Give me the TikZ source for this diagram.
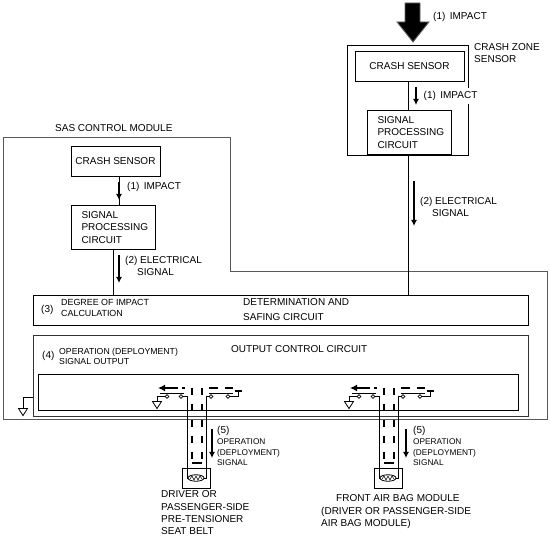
\documentclass[tikz,border=0pt]{standalone}
\usepackage{fontspec}
\setmainfont{Liberation Sans}
\usetikzlibrary{positioning,arrows.meta,shapes.geometric}

\begin{document}
\begin{tikzpicture}[
    x=1pt, y=-1pt,
    every node/.style={font=\fontsize{10}{12.4}\selectfont},
    box/.style={draw, rectangle, line width=0.8pt, inner sep=0pt, align=center},
    sensorbox/.style={box, minimum height=30pt},
    signalbox/.style={box, fill=white, minimum height=44pt, text width=64pt, inner xsep=10pt, align=left},
    lbl/.style={anchor=north west, inner sep=0pt, align=left},
    small/.style={lbl, font=\fontsize{8.3}{10.3}\selectfont},
    wire/.style={line width=0.8pt},
    graywire/.style={line width=0.9pt, black!65},
    arr/.style={-{Latex[length=6pt,width=6pt]}, line width=2pt},
    pulse/.style={line width=1.9pt, dash pattern=on 7.5pt off 8.5pt},
    contact/.style={draw, circle, line width=0.7pt, inner sep=0pt, minimum size=3.6pt, fill=white},
    ground/.style={draw, isosceles triangle, isosceles triangle apex angle=70, isosceles triangle stretches,
        shape border rotate=-90, line width=0.8pt, inner sep=0pt, minimum width=9pt, minimum height=7pt}
]
    \useasboundingbox (0,0) rectangle (550,545);

    % module outlines
    \draw[graywire] (3,137) -- (230,137) -- (230,271) -- (547,271) -- (547,419) -- (3,419) -- cycle;
    \node[box, minimum width=121pt, minimum height=110pt] (zone) at (407.5,100) {};
    \node[box, minimum width=495pt, minimum height=30pt] (det) at (280.5,310) {};
    \node[box, minimum width=495pt, minimum height=81pt, draw=black!80] (ctrl) at (280.5,375.5) {};
    \node[box, minimum width=480pt, minimum height=36pt] (drv) at (278,392) {};

    % sensors
    \node[sensorbox, minimum width=109pt] (sensor2) at (409.5,66.5) {CRASH SENSOR};
    \node[signalbox, below=28pt of sensor2] (signal2) {SIGNAL\\PROCESSING\\CIRCUIT};
    \node[sensorbox, minimum width=89pt] (sensor1) at (115.5,161.5) {CRASH SENSOR};
    \node[signalbox, below=28pt of sensor1, xshift=-2pt] (signal1) {SIGNAL\\PROCESSING\\CIRCUIT};
    \draw[wire] ([xshift=-1.5pt]sensor2.south) -- ([xshift=-1.5pt]signal2.north);
    \draw[wire] ([xshift=-1.5pt]signal2.south) -- ([xshift=-1.5pt]signal2.south |- det.north);
    \draw[wire] ([xshift=3.5pt]sensor1.south) -- ([xshift=3.5pt]sensor1.south |- signal1.north);
    \draw[wire] (signal1.south) -- (signal1.south |- det.north);

    % impact arrow
    \coordinate (hit) at (413,42);
    \draw[fill=black, draw=black!60, line width=0.9pt] (405,3) -- (420,3) -- (420,22) -- (429,22)
        -- (hit) -- (397,22) -- (405,22) -- cycle;

    % signal arrows
    \foreach \nm/\x/\ya/\yb in {a/416/87/105, b/414/181/226, c/119/182/200, d/119/255/283, e/212/429/458, f/406/429/458} {
        \coordinate (\nm s) at (\x,\ya);
        \coordinate (\nm e) at (\x,\yb);
        \draw[arr] (\nm s) -- (\nm e);
    }

    % texts
    \node[lbl] (t1) at (433,12) {(1)\, IMPACT};
    \node[lbl] (t2) at (474,43) {CRASH ZONE\\SENSOR};
    \node[lbl, fill=white, inner xsep=0.5pt, inner ysep=3pt] (t3) at (423,88) {(1)\, IMPACT};
    \node[lbl] (t4) at (420,197) {(2) ELECTRICAL\\\hspace*{12pt}SIGNAL};
    \node[lbl] (t5) at (55,124) {SAS CONTROL MODULE};
    \node[lbl] (t6) at (127,182) {(1)\, IMPACT};
    \node[lbl] (t7) at (125,256) {(2) ELECTRICAL\\\hspace*{12pt}SIGNAL};
    \node[lbl] (t8) at (41,305) {(3)};
    \node[small, font=\fontsize{8.9}{10.4}\selectfont] (t9) at (61,299.5) {DEGREE OF IMPACT\\CALCULATION};
    \node[lbl, font=\fontsize{10}{15}\selectfont] (t10) at (243,298) {DETERMINATION AND\\SAFING CIRCUIT};
    \node[lbl] (t11) at (231,345) {OUTPUT CONTROL CIRCUIT};
    \node[lbl] (t12) at (42,351) {(4)};
    \node[small, font=\fontsize{8.7}{10.8}\selectfont] (t13) at (59,347.5) {OPERATION (DEPLOYMENT)\\SIGNAL OUTPUT};
    \node[lbl] (t14) at (161,490.5) {DRIVER OR\\PASSENGER-SIDE\\PRE-TENSIONER\\SEAT BELT};
    \node[lbl] (t15) at (321,494.5) {\hspace*{15pt}FRONT AIR BAG MODULE\\(DRIVER OR PASSENGER-SIDE\\AIR BAG MODULE)};
    \node[lbl] (t16) at (217,426) {(5)};
    \node[small] (t17) at (217,439) {OPERATION\\(DEPLOYMENT)\\SIGNAL};
    \node[lbl] (t18) at (413,426) {(5)};
    \node[small] (t19) at (413,439) {OPERATION\\(DEPLOYMENT)\\SIGNAL};

    % left ground
    \node[ground] (gnd) at (23,411) {};
    \draw[wire] (ctrl.west |- 0,397) -| (gnd.north);

    % output switches and modules
    \foreach \nm/\dx in {p/0, q/192} {
        \begin{scope}[xshift=\dx pt]
            \node[box, minimum width=28pt, minimum height=20pt] (conn\nm) at (196,478) {};
            \node[draw, ellipse, line width=0.8pt, inner sep=0pt, minimum width=16pt, minimum height=6.5pt] (squib\nm) at (196,478) {};
            \draw[line width=0.5pt] (190,479) -- (192,476) -- (194,480) -- (196,476) -- (198,480) -- (200,476) -- (202,479);
            \node[ground] (gnd\nm) at (157,404) {};
            \node[contact] (c\nm a) at (167,396.5) {};
            \node[contact] (c\nm b) at (181,396.5) {};
            \node[contact] (c\nm c) at (211,396.5) {};
            \node[contact] (c\nm d) at (228,396.5) {};
            \coordinate (pow\nm) at (238,391);
            \coordinate (lbar\nm a) at (160,393);
            \coordinate (lbar\nm b) at (184,393);
            \coordinate (rbar\nm a) at (209,393);
            \coordinate (rbar\nm b) at (233,393);
            \draw[wire] (c\nm a.west) -| (gnd\nm.north);
            \draw[wire] (c\nm b.east) -- (187,396.5) |- (squib\nm.west);
            \draw[wire] (c\nm c.west) -- (206.5,396.5) |- (squib\nm.east);
            \draw[wire] (c\nm d.east) -| (pow\nm);
            \draw[line width=1.2pt] (234.5,391) -- (242,391);
            \draw[wire] (lbar\nm a) -- (lbar\nm b);
            \draw[wire] (rbar\nm a) -- (rbar\nm b);
            % current path
            \coordinate (cura\nm) at (192,388);
            \coordinate (curb\nm) at (192,460);
            \coordinate (curc\nm) at (202,388);
            \coordinate (curd\nm) at (202,460);
            \draw[pulse] (cura\nm) -- (curb\nm);
            \draw[pulse] (curc\nm) -- (curd\nm);
            \draw[line width=1.9pt] (192,463) -- (202,463);
            \draw[line width=1.9pt] (209,388) -- (218,388);
            \draw[line width=1.9pt] (225,388) -- (233,388);
            \draw[line width=1.9pt] (182,388) -- (185,388);
            \draw[-{Latex[length=7pt,width=7pt]}, line width=1.9pt] (178,388) -- (158,388);
        \end{scope}
    }
\end{tikzpicture}
\end{document}
